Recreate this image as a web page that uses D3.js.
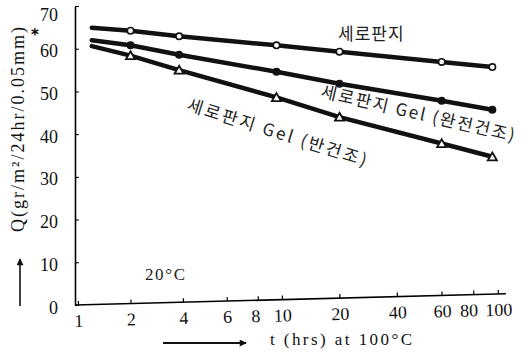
<!DOCTYPE html>
<html>
<head>
<meta charset="utf-8">
<script src="https://cdn.jsdelivr.net/npm/d3@7"></script>
<style>
  body { margin: 0; background: #fff; }
  svg { display: block; }
  .kr { font-family: "Noto Sans CJK KR", sans-serif; fill: #222; }
</style>
</head>
<body>
<svg id="chart"></svg>
<script>
// data
var hours = [1.2, 2, 3.8, 9.5, 20, 60, 95];
var cellophane = [64.9, 64.2, 62.9, 60.8, 59.3, 56.9, 55.7];      // 세로판지
var gelFullDry = [62.0, 60.8, 58.6, 54.6, 51.8, 47.8, 45.7];       // 세로판지 Gel (완전건조)
var gelHalfDry = [60.6, 58.4, 55.0, 48.6, 44.0, 37.8, 34.7];       // 세로판지 Gel (반건조)
var xTicks = [1, 2, 4, 6, 8, 10, 20, 40, 60, 80, 100];
var yTicks = [0, 10, 20, 30, 40, 50, 60, 70];

var width = 528, height = 359;

var svg = d3.select('#chart')
    .attr('width', width)
    .attr('height', height);

// log axis; extra stops follow the hand drawn tick spacing of the scan
var x = d3.scaleLog()
    .domain([1, 4, 10, 40, 100])
    .range([78, 183, 282, 397, 498]);

var y = d3.scaleLinear()
    .domain([0, 70])
    .range([305, 6]);

// x axis (scan is a little tilted)
var xAxis = svg.append('g')
    .attr('transform', 'rotate(-1.5, 76, 305) translate(0,305)')
    .call(d3.axisBottom(x).tickValues(xTicks).tickSize(-4).tickSizeOuter(0)
      .tickFormat(d3.format('d')));
xAxis.select('.domain').attr('d', 'M75,0H506').attr('stroke-width', 1.6);
xAxis.selectAll('.tick line').attr('stroke-width', 1.2);
xAxis.selectAll('.tick text').attr('dy', '1.05em');
xAxis.selectAll('.tick text').filter(function(d) { return d == 8; }).attr('dx', '-3');
xAxis.selectAll('.tick text').filter(function(d) { return d == 80; }).attr('dx', '-5');

// y axis
var yAxis = svg.append('g')
    .attr('transform', 'translate(75,0)')
    .call(d3.axisLeft(y).tickValues(yTicks).tickSize(-4).tickSizeOuter(0));
yAxis.select('.domain').attr('stroke-width', 1.6);
yAxis.selectAll('.tick text').attr('x', -17).attr('dy', '0.45em');
yAxis.selectAll('.tick text').filter(function(d) { return d == 70; }).attr('dy', '0.8em');

svg.selectAll('.tick text')
    .attr('font-family', 'Liberation Serif, serif')
    .attr('font-size', 18)
    .attr('fill', '#111');

var series = [
  {values: cellophane, marker: 'open'},
  {values: gelFullDry, marker: 'filled'},
  {values: gelHalfDry, marker: 'triangle'}
];

var line = d3.line()
    .x(function(d) { return x(d[0]); })
    .y(function(d) { return y(d[1]); });

series.forEach(function(s) {
  var pts = hours.map(function(h, i) { return [h, s.values[i]]; });

  svg.append('path')
      .datum(pts)
      .attr('fill', 'none')
      .attr('stroke', '#111')
      .attr('stroke-width', 4.5)
      .attr('stroke-linecap', 'round')
      .attr('d', line);

  // first point is just where the drawn line starts, no marker there
  var marks = pts.slice(1);
  if (s.marker == 'triangle') {
    svg.selectAll(null).data(marks).enter().append('path')
        .attr('d', d3.symbol().type(d3.symbolTriangle).size(36))
        .attr('transform', function(d) { return 'translate(' + x(d[0]) + ',' + (y(d[1]) + 1) + ')'; })
        .attr('fill', '#fff')
        .attr('stroke', '#111')
        .attr('stroke-width', 1.8);
  } else {
    svg.selectAll(null).data(marks).enter().append('circle')
        .attr('cx', function(d) { return x(d[0]); })
        .attr('cy', function(d) { return y(d[1]); })
        .attr('r', 3.2)
        .attr('fill', s.marker == 'open' ? '#fff' : '#111')
        .attr('stroke', '#111')
        .attr('stroke-width', 1.6);
  }
});

// series labels
svg.append('text')
    .attr('class', 'kr')
    .attr('x', 338).attr('y', 40)
    .attr('font-size', 17)
    .attr('letter-spacing', 1)
    .text('세로판지');

svg.append('text')
    .attr('class', 'kr')
    .attr('transform', 'translate(320,97) rotate(13)')
    .attr('font-size', 17)
    .attr('letter-spacing', 2)
    .text('세로판지 Gel (완전건조)');

svg.append('text')
    .attr('class', 'kr')
    .attr('transform', 'translate(186,110) rotate(17.5)')
    .attr('font-size', 17)
    .attr('letter-spacing', 2.5)
    .text('세로판지 Gel (반건조)');

svg.append('text')
    .attr('x', 145).attr('y', 280)
    .attr('font-family', 'Liberation Serif, serif')
    .attr('font-size', 17)
    .attr('fill', '#222')
    .attr('textLength', 40)
    .text('20°C');

svg.append('text')
    .attr('x', 31).attr('y', 40)
    .attr('font-family', 'DejaVu Sans, sans-serif')
    .attr('font-weight', 'bold')
    .attr('font-size', 15)
    .text('*');

// axis titles
svg.append('text')
    .attr('transform', 'translate(24,232) rotate(-90)')
    .attr('font-family', 'Liberation Serif, serif')
    .attr('font-size', 18)
    .attr('fill', '#111')
    .attr('textLength', 205)
    .attr('lengthAdjust', 'spacing')
    .text('Q(gr/m²/24hr/0.05mm)');

svg.append('text')
    .attr('x', 270).attr('y', 345)
    .attr('font-family', 'Liberation Serif, serif')
    .attr('font-size', 17)
    .attr('fill', '#111')
    .attr('textLength', 142)
    .attr('lengthAdjust', 'spacing')
    .text('t (hrs) at 100°C');

// arrows
var defs = svg.append('defs');
defs.append('marker')
    .attr('id', 'arrow')
    .attr('viewBox', '0 0 10 10')
    .attr('refX', 9).attr('refY', 5)
    .attr('markerWidth', 9).attr('markerHeight', 7)
    .attr('markerUnits', 'userSpaceOnUse')
    .attr('orient', 'auto')
  .append('path')
    .attr('d', 'M0,0L10,5L0,10z')
    .attr('fill', '#111');

svg.append('line')
    .attr('x1', 20).attr('y1', 306).attr('x2', 20).attr('y2', 259)
    .attr('stroke', '#111').attr('stroke-width', 1.6)
    .attr('marker-end', 'url(#arrow)');

svg.append('line')
    .attr('x1', 163).attr('y1', 343).attr('x2', 246).attr('y2', 343)
    .attr('stroke', '#111').attr('stroke-width', 1.8)
    .attr('marker-end', 'url(#arrow)');
</script>
</body>
</html>
